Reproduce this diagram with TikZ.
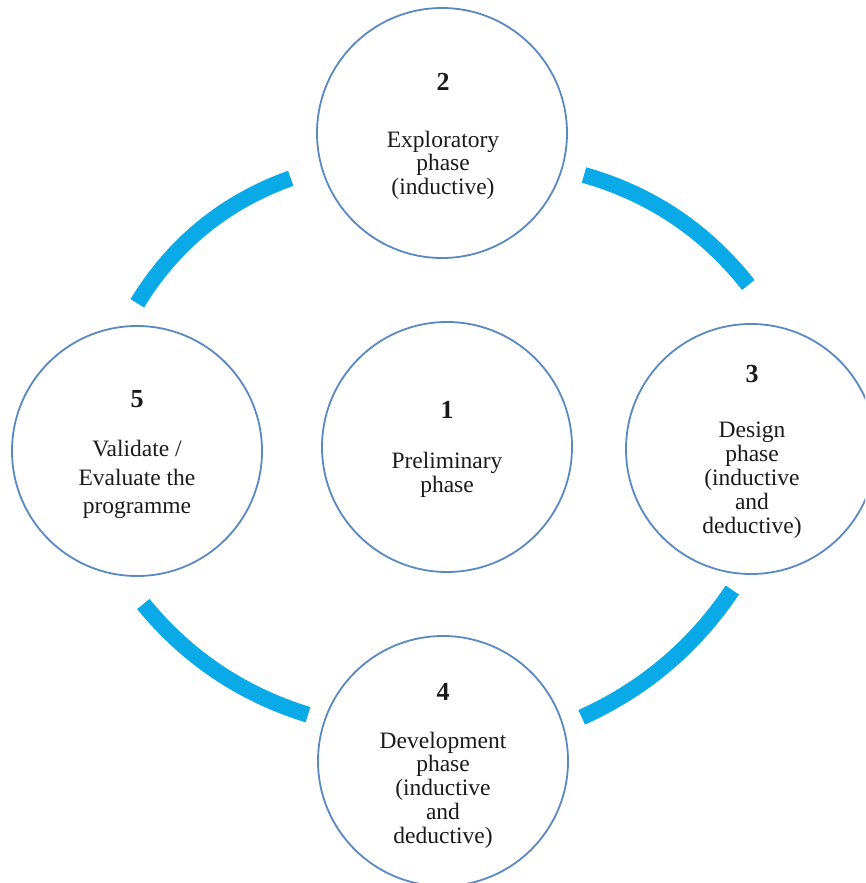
\documentclass[tikz,border=0pt]{standalone}
\usepackage{fontspec}
\setmainfont{Liberation Serif}
\definecolor{ringblue}{HTML}{5A88C2}
\definecolor{arcblue}{HTML}{0AAAE8}
\definecolor{txt}{HTML}{1A1A1A}
\begin{document}
\begin{tikzpicture}[x=1pt,y=-1pt,
  ring/.style={circle,draw=ringblue,line width=1.8pt,minimum size=250pt,inner sep=0pt},
  lbl/.style={font=\fontsize{23.5}{24}\selectfont,text=txt,anchor=base,inner sep=0pt},
  num/.style={font=\fontsize{26}{26}\selectfont\bfseries,text=txt,anchor=base,inner sep=0pt},
  band/.style={draw=arcblue,line width=16pt,line cap=butt}]
\useasboundingbox (0,0) rectangle (865,883);
\clip (0,0) rectangle (865,883);
% circles
\node[ring] (c1) at (447,447) {};
\node[ring] (c2) at (442,133) {};
\node[ring] (c3) at (751,449) {};
\node[ring] (c4) at (443,761) {};
\node[ring] (c5) at (137,451) {};
% connecting arcs
\coordinate (a1s) at (290.7,178.3); \coordinate (a1e) at (137.3,303.3);
\coordinate (a2s) at (584,175);     \coordinate (a2e) at (748.3,285);
\coordinate (a3s) at (732.3,590);   \coordinate (a3e) at (581.7,717.3);
\coordinate (a4s) at (143.3,604);   \coordinate (a4e) at (308,714.7);
\draw[band] (a1s) .. controls (224.8,201.9) and (173.7,243.6) .. (a1e);
\draw[band] (a2s) .. controls (650.7,193.9) and (705.4,230.6) .. (a2e);
\draw[band] (a3s) .. controls (694.2,646.7) and (644,689.2) .. (a3e);
\draw[band] (a4s) .. controls (187.1,657.5) and (242,694.4) .. (a4e);
% circle 1
\node[num] (n1) at (447,418) {1};
\node[lbl] (t1a) at (447,468) {Preliminary};
\node[lbl] (t1b) at (447,492) {phase};
% circle 2
\node[num] (n2) at (443,90) {2};
\node[lbl] (t2a) at (443,147) {Exploratory};
\node[lbl] (t2b) at (443,170.5) {phase};
\node[lbl] (t2c) at (443,194) {(inductive)};
% circle 3
\node[num] (n3) at (752,382) {3};
\node[lbl] (t3a) at (752,437) {Design};
\node[lbl] (t3b) at (752,461) {phase};
\node[lbl] (t3c) at (752,485) {(inductive};
\node[lbl] (t3d) at (752,509) {and};
\node[lbl] (t3e) at (752,533) {deductive)};
% circle 4
\node[num] (n4) at (443,700) {4};
\node[lbl] (t4a) at (443,748) {Development};
\node[lbl] (t4b) at (443,771.5) {phase};
\node[lbl] (t4c) at (443,795) {(inductive};
\node[lbl] (t4d) at (443,819) {and};
\node[lbl] (t4e) at (443,843) {deductive)};
% circle 5
\node[num] (n5) at (137,407) {5};
\node[lbl] (t5a) at (137,456) {Validate /};
\node[lbl] (t5b) at (137,485) {Evaluate the};
\node[lbl] (t5c) at (137,513) {programme};
\end{tikzpicture}
\end{document}
